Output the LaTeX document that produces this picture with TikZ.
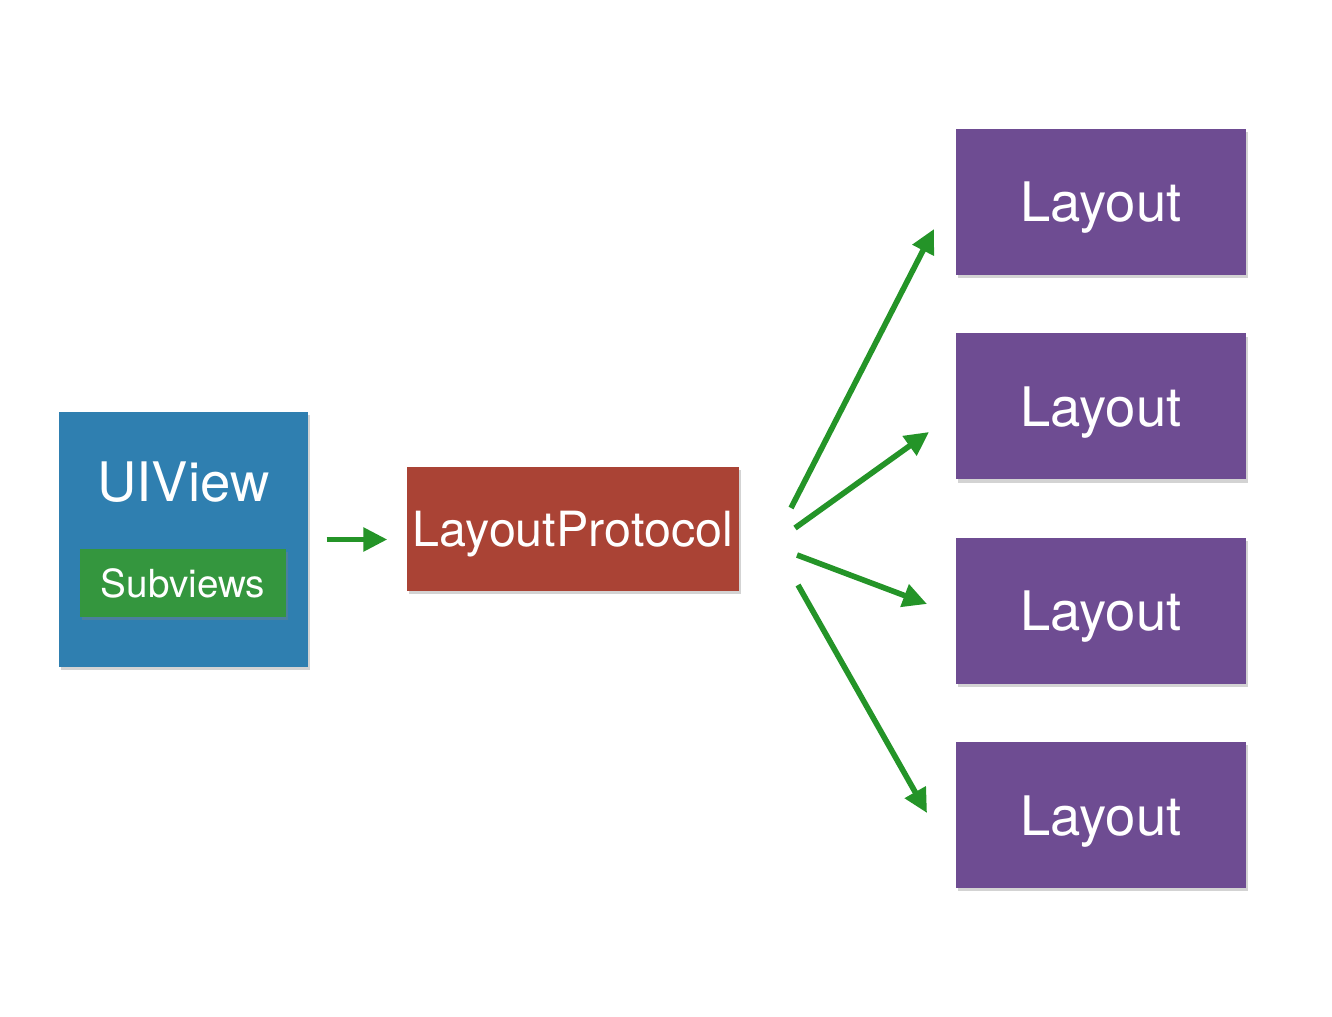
\documentclass[tikz,border=0pt]{standalone}
\usepackage{fontspec}
\setmainfont{TeX Gyre Heros}
\usepackage{tikz}
\usetikzlibrary{arrows.meta,positioning,shadows}
\definecolor{viewblue}{RGB}{47,127,176}
\definecolor{subgreen}{RGB}{52,150,62}
\definecolor{protored}{RGB}{170,67,53}
\definecolor{layoutpurple}{RGB}{110,76,146}
\definecolor{flowgreen}{RGB}{36,148,40}

\begin{document}
\begin{tikzpicture}
	\tikzstyle{card}
	  =[rectangle, inner sep=0pt, text=white, text depth=0pt,
	  drop shadow={shadow xshift=0.6pt, shadow yshift=-0.9pt, opacity=.35}]
	\tikzstyle{layout}
	  =[card, fill=layoutpurple, minimum width=2.9cm, minimum height=1.46cm,
	  font=\fontsize{15.5}{18}\selectfont]
	\tikzstyle{flow}
	  =[draw=flowgreen, line width=1.6pt, -{Triangle[length=0.24cm, width=0.23cm]}]

	\useasboundingbox (0,0) rectangle (13.32,10.16);

	\node[card, fill=viewblue, minimum width=2.49cm, minimum height=2.55cm] (view)
	  at (1.835,4.765) {};
	\node[card, fill=subgreen, minimum width=2.06cm, minimum height=0.68cm,
	  font=\fontsize{11}{13}\selectfont] (sub)
	  at (1.83,4.33) {Subviews};
	\node[text=white, font=\fontsize{15.5}{18}\selectfont] (title)
	  at (1.835,5.34) {UIView};

	\node[card, fill=protored, minimum width=3.32cm, minimum height=1.24cm,
	  font=\fontsize{13.8}{16}\selectfont] (proto)
	  at (5.73,4.87) {LayoutProtocol};

	\node[layout] (lay1) at (11.01,8.14) {Layout};
	\node[layout] (lay2) [below=0.57cm of lay1] {Layout};
	\node[layout] (lay3) [below=0.57cm of lay2] {Layout};
	\node[layout] (lay4) [below=0.57cm of lay3] {Layout};

	% loose ends of the fan
	\coordinate (s1) at (7.91,5.08);
	\coordinate (s2) at (7.95,4.88);
	\coordinate (s3) at (7.97,4.61);
	\coordinate (s4) at (7.98,4.31);
	\coordinate (e1) at (9.34,7.87);
	\coordinate (e2) at (9.29,5.84);
	\coordinate (e3) at (9.27,4.12);
	\coordinate (e4) at (9.27,2.03);

	\draw[flow, shorten <=0.18cm, shorten >=0.19cm] (view.east) -- (proto.west |- view.east);
	\draw[flow] (s1)--(e1);
	\draw[flow] (s2)--(e2);
	\draw[flow] (s3)--(e3);
	\draw[flow] (s4)--(e4);
\end{tikzpicture}
\end{document}
